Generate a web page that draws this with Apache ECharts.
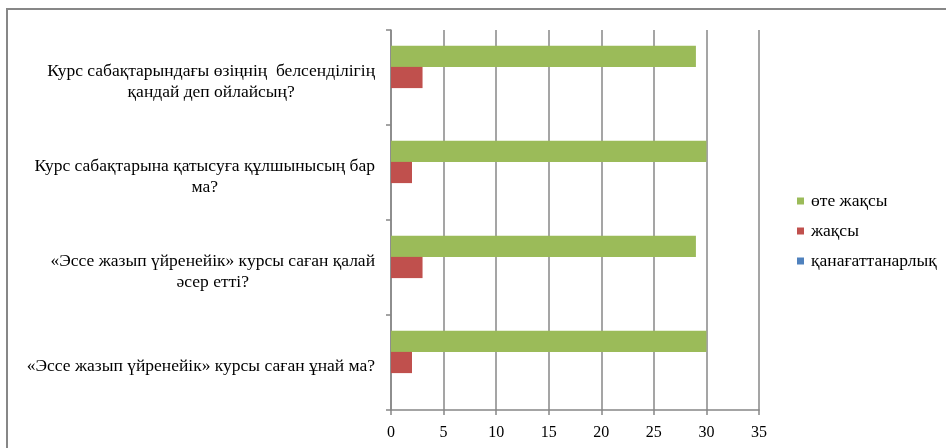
<!DOCTYPE html>
<html>
<head>
<meta charset="utf-8">
<script src="https://cdn.jsdelivr.net/npm/echarts@6/dist/echarts.min.js"></script>
<style>
html,body{margin:0;padding:0;background:#fff;}
#main{width:946px;height:448px;}
</style>
</head>
<body>
<div id="main"></div>
<script>
var categories = [
  '«Эссе жазып үйренейік» курсы саған ұнай ма?',
  '«Эссе жазып үйренейік» курсы саған қалай\nәсер етті?',
  'Курс сабақтарына қатысуға құлшынысың бар\nма?',
  'Курс сабақтарындағы өзіңнің  белсенділігің\nқандай деп ойлайсың?'
];
var seriesNames = ['өте жақсы', 'жақсы', 'қанағаттанарлық'];
var veryGood = [30, 29, 30, 29];
var good = [2, 3, 2, 3];
var satisfactory = [0, 0, 0, 0];

var serif = '"Liberation Serif", "DejaVu Serif", serif';
var chart = echarts.init(document.getElementById('main'));
chart.setOption({
  animation: false,
  backgroundColor: '#fff',
  graphic: [{
    type: 'rect',
    shape: {x: 7, y: 9, width: 1200, height: 800},
    style: {fill: 'none', stroke: '#878787', lineWidth: 2},
    silent: true
  }],
  grid: {left: 391, right: 187, top: 30, bottom: 38},
  legend: {
    orient: 'vertical',
    left: 797,
    top: 192,
    padding: 0,
    itemWidth: 7,
    itemHeight: 7,
    itemGap: 12,
    icon: 'rect',
    data: seriesNames,
    textStyle: {fontFamily: serif, fontSize: 17.5, color: '#000', padding: [0, 0, 0, 2]}
  },
  xAxis: {
    type: 'value',
    min: 0,
    max: 35,
    interval: 5,
    axisLine: {show: true, lineStyle: {color: '#878787', width: 1.5}},
    axisTick: {show: true, length: 5, lineStyle: {color: '#878787', width: 1.5}},
    splitLine: {show: true, lineStyle: {color: '#878787', width: 1.5}},
    axisLabel: {fontFamily: serif, fontSize: 16, color: '#000', margin: 15}
  },
  yAxis: {
    type: 'category',
    data: categories,
    axisLine: {show: true, lineStyle: {color: '#878787', width: 1.5}},
    axisTick: {show: true, length: 5, lineStyle: {color: '#878787', width: 1.5}},
    axisLabel: {
      margin: 16,
      align: 'right',
      padding: [8, 0, 0, 0],
      formatter: function (v) {
        return v.split('\n').map(function (l) { return '{c|' + l + '}'; }).join('\n');
      },
      rich: {c: {align: 'center', fontFamily: serif, fontSize: 17.5, lineHeight: 21, color: '#000'}}
    }
  },
  series: [
    {name: seriesNames[0], type: 'bar', data: veryGood, barGap: '0%', barCategoryGap: '33%', itemStyle: {color: '#9BBB59'}},
    {name: seriesNames[1], type: 'bar', data: good, barGap: '0%', barCategoryGap: '33%', itemStyle: {color: '#C0504D'}},
    {name: seriesNames[2], type: 'bar', data: satisfactory, barGap: '0%', barCategoryGap: '33%', itemStyle: {color: '#4F81BD'}}
  ]
});
</script>
</body>
</html>
